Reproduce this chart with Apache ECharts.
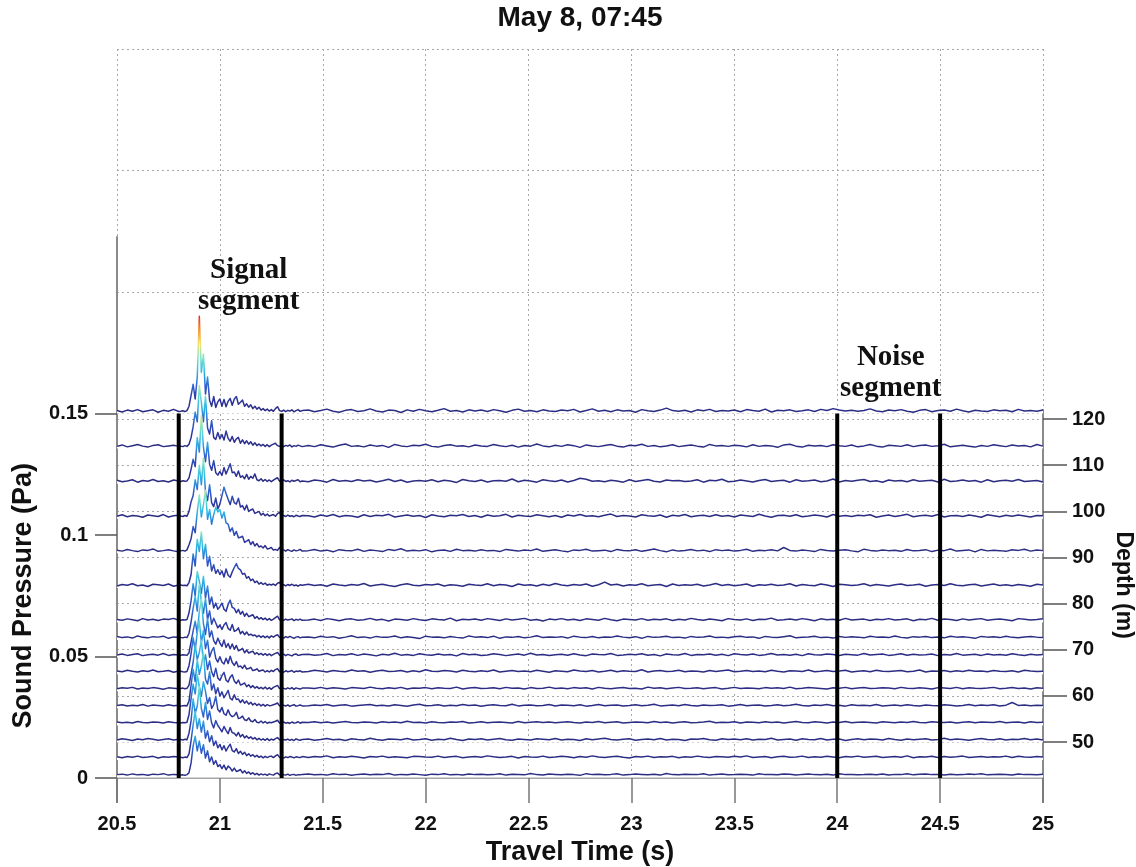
<!DOCTYPE html>
<html><head><meta charset="utf-8">
<script src="https://cdn.jsdelivr.net/npm/echarts@6/dist/echarts.min.js"></script>
<style>html,body{margin:0;padding:0;background:#fff}#c{width:1136px;height:867px}</style>
</head><body><div id="c"></div>
<script>
// ---------------- data ----------------
const chartTitle = 'May 8, 07:45';
const xName = 'Travel Time (s)';
const pName = 'Sound Pressure (Pa)';
const dName = 'Depth (m)';
// trace depths (m), back (deep) to front (shallow)
const depths = [121.2, 113.6, 106.0, 98.4, 90.9, 83.4, 75.9, 72.1, 68.3, 64.7, 61.0, 57.3, 53.6, 49.9, 46.1, 42.3];
// sampling of each trace: [start time, step, count]
const timeSegments = [[20.5, 0.025, 13], [20.81, 0.01, 60], [21.43, 0.03, 120]];
// signal / noise segment boundaries (s)
const segmentBounds = [20.8, 21.3, 24.0, 24.5];
// annotation text, time (s), height (plot units)
const annotations = [['Signal\nsegment', 21.14, 0.2025], ['Noise\nsegment', 24.26, 0.1665]];
const pressureUnit = 1e-4; // values below are in 1e-4 Pa

const d121 = [12,6,14,9,16,7,11,15,5,13,9,17,8,
9,11,8,12,30,75,120,60,150,400,
170,245,80,150,55,30,70,25,48,60,
30,58,28,50,62,34,60,70,38,46,
55,30,40,26,36,20,30,18,26,14,
20,12,18,10,16,9,20,28,12,9,
14,8,13,10,15,7,12,16,9,12,
14,7,12,18,9,5,13,16,8,11,
19,10,6,14,12,4,15,9,17,11,
7,13,20,9,12,6,15,10,14,8,
16,11,5,13,18,9,12,7,15,10,
8,14,11,17,6,12,19,9,13,7,
15,10,12,5,16,11,8,14,22,12,
9,13,6,15,11,17,8,12,10,14,
7,16,12,9,18,6,13,11,15,8,
11,15,8,17,12,20,14,10,13,9,
12,19,10,7,14,11,16,9,5,13,
16,7,12,14,9,18,11,6,13,10,
8,15,11,13,7,17,10,12,9,14];
const d114 = [9,15,7,12,17,10,6,13,16,8,11,14,9,
10,8,12,9,18,45,90,150,110,260,
190,110,215,85,60,115,45,38,66,40,
58,35,72,42,30,50,26,40,46,22,
36,20,32,18,28,14,24,12,19,11,
17,9,16,8,14,18,22,12,9,14,
8,13,10,15,7,12,9,14,11,8,
13,8,16,11,6,14,19,9,12,7,
15,10,13,5,17,11,8,14,12,18,
9,6,13,16,10,12,7,15,11,9,
17,12,8,14,6,13,10,19,11,7,
14,9,16,12,5,15,11,8,13,17,
10,6,14,12,18,9,13,7,11,16,
8,12,15,10,6,17,11,13,9,14,
12,7,16,9,13,11,5,15,18,10,
6,14,11,13,8,16,12,9,15,7,
11,17,10,6,14,12,9,16,8,13,
15,9,12,18,7,11,14,10,6,13,
9,16,12,8,15,11,13,7,17,10];
const d106 = [14,8,11,16,6,13,10,17,9,12,7,15,11,
9,12,10,11,24,60,100,70,190,130,
280,150,90,170,80,55,95,45,35,50,
34,66,40,60,82,45,48,30,52,26,
32,20,38,18,30,22,40,16,12,20,
10,17,9,15,8,14,20,24,10,12,
15,9,12,7,14,10,13,16,8,11,
8,15,12,6,17,10,13,9,16,11,
14,7,12,18,9,15,6,11,13,10,
16,8,14,11,5,17,12,9,15,7,
12,13,10,19,8,14,11,6,16,12,
9,15,7,13,22,18,10,12,8,14,
11,6,16,9,13,17,10,7,15,12,
13,9,11,16,6,14,12,18,8,10,
15,11,7,13,17,9,12,14,6,16,
10,12,15,8,11,19,7,13,10,14,
17,9,12,6,15,11,13,8,16,10,
12,14,7,18,9,11,15,10,13,6,
16,8,12,14,10,17,9,11,13,7];
const d98 = [10,16,8,13,11,6,15,12,9,17,7,12,14,
11,9,13,10,30,70,95,160,120,220,
140,250,110,75,140,65,50,85,40,60,
95,130,104,80,58,92,66,60,84,48,
54,36,56,30,36,40,22,26,30,15,
22,12,19,11,14,17,10,21,26,10,
13,9,15,10,12,8,14,11,9,13,
12,7,15,10,17,8,13,11,6,16,
9,14,12,18,7,11,15,10,13,5,
16,11,8,14,12,17,9,13,6,15,
10,12,18,7,14,11,9,16,12,8,
13,6,15,11,17,10,12,8,14,19,
9,13,11,7,16,12,10,15,6,14,
11,17,8,12,14,9,16,10,13,7,
15,12,9,18,11,6,13,14,10,16,
8,11,15,12,7,17,10,13,9,14,
12,16,6,11,15,9,13,18,8,12,
14,10,17,7,12,13,9,15,11,6,
16,12,8,14,10,15,11,7,13,12];
const d91 = [13,9,16,11,7,14,12,18,8,11,15,10,6,
10,12,9,14,35,60,110,85,170,240,
150,200,260,140,180,120,160,190,170,180,
145,170,125,120,90,105,74,90,64,66,
70,45,50,56,36,48,30,40,26,30,
22,32,18,20,24,13,16,12,24,11,
14,9,15,11,8,14,10,12,16,9,
11,16,9,13,6,15,12,10,17,8,
14,11,7,16,12,19,9,13,10,15,
6,12,14,8,17,11,13,9,15,10,
12,7,16,13,9,14,11,18,8,12,
15,10,6,14,12,17,9,11,13,7,
16,12,10,15,8,13,18,11,6,14,
9,12,16,10,13,7,15,11,14,9,
12,17,8,13,11,15,10,24,12,9,
14,11,7,16,12,9,13,15,10,6,
17,12,9,14,11,13,8,16,10,12,
15,7,13,11,18,9,12,14,6,16,
10,13,11,8,15,12,17,9,14,11];
const d83 = [8,14,11,17,9,12,6,15,13,10,16,7,12,
12,10,11,9,22,55,140,90,200,150,
230,120,180,90,130,70,95,60,75,55,
70,45,78,52,44,66,84,100,80,74,
56,60,40,46,30,36,22,28,16,22,
14,20,11,15,12,16,10,19,23,10,
13,8,14,10,15,9,12,7,13,11,
15,10,13,7,16,12,9,14,11,18,
8,12,15,10,6,13,17,11,9,14,
12,16,8,13,11,7,15,12,10,17,
9,14,12,6,16,11,13,8,15,10,
18,12,9,14,11,16,7,13,24,12,
15,8,13,11,17,9,12,14,6,16,
10,13,11,15,8,12,18,10,14,9,
12,16,7,13,11,15,10,12,17,8,
14,11,9,16,12,6,15,13,10,12,
17,9,14,11,8,13,16,10,12,15,
7,12,14,10,17,11,9,13,15,8,
12,16,10,13,9,14,11,7,15,12];
const d76 = [12,9,15,11,7,16,10,13,8,14,12,17,9,
9,11,10,12,40,90,160,110,210,170,
120,190,100,150,75,105,60,80,55,65,
80,55,46,74,92,62,58,40,54,34,
46,26,38,24,28,32,17,25,14,20,
12,18,10,16,9,14,20,26,11,13,
9,14,10,12,15,8,13,10,14,9,
10,14,8,16,12,7,13,15,9,11,
17,10,13,6,14,12,9,16,11,8,
15,12,10,18,7,13,11,14,9,16,
12,8,15,10,13,17,9,12,6,14,
11,16,10,13,8,15,12,9,17,11,
7,14,12,10,16,9,13,11,15,8,
13,10,17,12,9,14,11,7,16,12,
10,15,8,13,12,18,9,11,14,10,
16,12,7,15,11,13,9,17,10,12,
14,8,13,11,16,10,12,15,7,13,
11,17,9,14,12,8,15,10,13,16,
9,12,14,11,7,16,13,10,12,15];
const d72 = [15,10,13,8,17,11,9,14,12,16,7,13,10,
11,9,12,10,28,75,130,180,120,230,
160,110,170,85,120,65,90,70,50,62,
44,62,72,48,40,64,36,40,50,26,
36,22,33,20,24,18,21,13,19,11,
17,10,16,9,17,12,18,22,11,13,
8,14,10,15,11,7,12,14,9,12,
13,9,16,11,14,7,12,18,10,13,
8,15,11,12,17,9,14,10,6,16,
12,13,9,15,11,8,17,12,14,10,
16,7,13,11,15,9,12,18,10,13,
11,14,8,16,12,10,15,9,13,11,
17,12,9,14,7,15,11,13,16,10,
12,8,15,11,13,17,10,12,9,14,
16,11,13,7,15,12,10,14,18,9,
11,13,16,10,12,8,15,11,14,12,
9,16,12,13,10,17,11,8,14,12,
15,10,13,9,16,12,14,11,7,15,
12,14,10,16,11,9,13,15,12,10];
const d68 = [11,15,9,13,16,8,12,14,10,17,9,13,11,
10,12,11,9,20,65,110,150,100,190,
240,140,95,160,85,110,70,55,80,60,
46,72,42,58,36,56,34,50,28,32,
38,20,31,19,23,26,14,20,12,17,
10,16,9,15,8,13,17,21,10,12,
14,8,13,10,7,13,15,9,11,13,
14,10,12,17,8,13,11,16,9,15,
12,7,14,11,18,10,13,9,16,12,
10,15,11,13,7,17,12,14,9,11,
16,13,8,12,15,10,18,11,13,9,
12,14,10,16,11,8,15,13,12,17,
9,11,14,12,16,10,13,7,15,12,
11,17,9,13,12,15,10,14,8,16,
13,11,15,9,12,17,11,13,10,14,
8,16,12,11,15,13,9,14,12,10,
17,11,13,15,9,12,16,10,14,11,
12,15,8,13,11,17,10,12,14,9,
15,11,13,10,16,12,9,14,11,13];
const d65 = [13,10,16,12,9,14,11,17,10,12,15,8,13,
12,10,9,11,35,85,150,100,170,220,
130,180,105,140,70,95,110,65,50,72,
50,42,66,44,74,48,36,52,30,34,
24,37,21,23,28,15,17,22,12,15,
17,9,15,9,16,11,19,23,10,12,
8,14,10,12,15,8,13,11,14,9,
11,16,13,9,15,12,10,17,12,14,
8,13,16,11,12,15,9,14,10,18,
12,11,15,13,9,16,12,10,14,11,
17,9,12,15,11,13,10,16,12,8,
14,12,10,17,13,11,15,9,12,16,
10,14,12,11,18,9,13,15,11,12,
16,10,13,12,9,15,11,14,17,10,
12,15,11,13,10,16,12,9,14,13,
11,17,10,12,15,11,13,16,9,12,
14,10,16,12,11,13,15,10,12,17,
9,13,12,15,10,14,11,16,12,13,
10,15,12,11,14,9,16,13,11,12];
const d61 = [10,14,12,16,9,13,11,15,12,8,14,12,10,
11,13,10,12,25,70,120,190,130,160,
210,115,150,90,125,80,60,95,55,45,
64,78,46,38,58,68,42,32,46,26,
29,34,19,27,15,23,13,19,11,16,
10,17,9,15,8,16,20,24,11,13,
12,9,14,10,15,8,14,11,9,13,
13,11,16,10,14,12,9,15,13,11,
17,12,10,14,11,16,9,13,12,15,
10,14,12,11,17,9,13,15,11,12,
14,10,16,12,13,9,15,11,12,17,
11,13,10,15,12,14,9,16,12,10,
13,15,11,12,9,17,12,14,10,13,
16,11,12,14,10,13,15,9,12,16,
11,13,12,10,15,12,14,11,17,10,
12,15,13,11,9,14,12,16,10,13,
15,11,12,14,13,10,16,12,11,14,
12,9,15,13,11,16,10,14,12,11,
13,16,10,12,15,11,13,9,14,12];
const d57 = [12,15,10,13,11,16,9,14,12,10,15,11,13,
9,11,12,10,30,95,160,110,200,140,
175,230,120,100,150,75,100,60,85,50,
68,44,58,74,42,34,56,36,38,24,
35,21,30,17,25,14,21,12,18,10,
16,9,15,11,12,15,18,22,10,11,
13,9,14,8,12,15,9,11,14,10,
11,14,12,16,10,13,15,9,12,14,
16,11,13,10,15,12,9,14,17,11,
12,15,10,13,11,16,12,14,9,13,
15,12,11,17,10,13,14,11,12,16,
10,14,13,11,15,9,12,16,11,13,
14,10,12,15,11,13,17,10,12,14,
11,16,12,10,14,12,13,15,9,12,
16,11,13,14,10,12,15,11,13,17,
12,10,14,12,16,11,13,9,15,12,
13,11,16,10,12,14,11,15,12,10,
14,12,11,15,13,10,12,16,11,14,
12,15,10,13,24,12,14,11,13,12];
const d54 = [14,11,13,10,16,12,11,14,13,10,15,12,11,
10,12,11,13,45,110,170,130,210,160,
120,180,140,90,115,70,85,120,65,55,
74,48,42,64,44,36,40,54,28,31,
38,23,20,31,18,15,24,13,11,18,
10,16,9,13,11,14,17,21,10,12,
14,9,12,8,14,10,11,15,9,13,
12,15,11,14,10,13,16,12,11,14,
13,10,15,12,14,11,17,12,13,10,
15,12,11,14,13,16,10,12,15,11,
13,14,12,10,16,11,13,15,12,14,
11,13,15,12,10,14,12,16,11,13,
15,10,12,14,13,11,16,12,14,10,
13,15,11,12,14,17,11,13,12,15,
10,14,13,11,15,12,14,10,13,16,
12,11,15,13,10,14,12,16,11,13,
14,12,10,15,13,11,14,12,16,12,
11,15,13,12,14,10,13,15,11,14,
13,12,16,11,13,14,10,15,12,13];
const d50 = [10,15,12,8,14,11,16,13,9,12,15,10,13,
12,10,13,11,38,90,180,120,150,230,
140,105,165,95,130,80,60,90,70,58,
44,66,50,36,62,40,38,27,41,23,
33,19,27,17,23,14,20,11,17,10,
15,9,16,8,14,10,16,20,11,9,
12,10,14,9,13,8,15,11,9,12,
14,9,12,16,11,13,8,15,12,10,
17,12,9,14,13,11,16,10,12,15,
9,13,11,17,12,8,14,12,15,10,
13,16,11,9,14,12,10,15,13,11,
16,10,13,12,8,15,11,14,17,12,
10,13,15,9,12,14,11,16,10,13,
12,8,14,13,16,11,9,15,12,14,
11,15,10,13,12,17,10,12,14,9,
15,12,11,16,10,13,14,8,12,15,
11,14,13,10,16,12,9,14,11,13,
15,10,12,17,11,14,12,9,13,16,
12,11,15,10,13,12,16,11,14,10];
const d46 = [13,9,14,11,16,10,12,15,8,13,11,14,12,
11,9,12,10,25,80,145,200,130,170,
115,160,90,120,75,100,60,78,50,64,
42,59,37,53,65,39,33,47,27,36,
23,32,18,26,16,22,13,19,11,16,
9,15,10,14,16,10,17,22,11,12,
8,13,10,14,12,9,13,11,10,14,
10,14,12,17,9,13,11,15,12,8,
14,12,16,10,13,11,9,15,14,12,
11,16,10,13,15,9,12,14,11,17,
13,10,12,15,8,14,12,11,16,10,
12,15,13,9,14,11,17,12,10,13,
15,11,8,14,12,16,10,13,12,15,
9,13,11,16,12,10,14,13,11,15,
12,17,10,12,14,9,13,15,11,12,
16,10,13,11,15,12,9,14,12,16,
11,13,15,10,12,14,11,17,9,13,
12,15,10,14,11,13,16,10,12,14,
11,13,12,16,10,15,12,11,14,12];
const d42 = [12,14,10,15,11,13,9,14,12,16,10,13,11,
10,11,9,12,20,60,130,170,110,150,
100,135,80,110,65,85,55,70,45,52,
37,51,32,47,40,27,39,25,28,33,
19,28,17,23,14,20,12,17,10,15,
11,14,9,15,12,10,16,19,11,9,
12,10,14,9,12,13,9,12,11,13,
15,11,13,10,16,12,14,9,13,15,
11,14,12,17,10,13,11,15,12,9,
14,12,16,11,13,10,15,12,14,11,
12,16,10,14,13,11,17,12,10,15,
13,11,14,12,9,16,12,14,11,13,
16,10,12,15,13,11,14,10,17,12,
11,14,13,12,16,10,13,15,11,12,
14,12,10,16,12,13,11,15,14,10,
13,15,12,11,14,10,16,12,13,11,
12,14,11,15,10,13,12,16,11,14,
15,12,13,10,14,11,12,15,13,16,
11,13,14,12,10,15,12,13,11,14];
const traces = [d121, d114, d106, d98, d91, d83, d76, d72, d68, d65, d61, d57, d54, d50, d46, d42];

// ---------------- layout / style ----------------
const W = 1136, H = 867;
const L = 117, R = 1043, TOP = 49, FRONT = 778;
const BACK = (TOP + FRONT) / 2;
const P_MAX = 0.15, D_MIN = 42.2, D_MAX = 121.2;
const AMP_COLOR_MAX = 0.04;
const FONT = '"Liberation Sans", Arial, Helvetica, sans-serif';
const SERIF = '"Liberation Serif", "Times New Roman", serif';
const TXT = '#111';
const AXIS_GREY = '#8a8a8a';
const dotted = { color: '#a8a8a8', width: 1, type: [2, 3] };
const jet = ['#2b2b7c', '#2c349e', '#2f62cf', '#2ab6e6', '#7ee4c8', '#f2e46a', '#f39a3a', '#e0301e'];
const jetStops = jet.map((c, k) => ({ offset: k / (jet.length - 1), color: c }));

const offset = d => (d - D_MIN) / (D_MAX - D_MIN) * P_MAX;   // waterfall projection of depth
const depthY = d => FRONT - (d - D_MIN) / (D_MAX - D_MIN) * (FRONT - BACK);

const times = [];
timeSegments.forEach(([s, st, n]) => { for (let k = 0; k < n; k++) times.push(+(s + k * st).toFixed(3)); });

const gridBase = { left: L, right: W - R, containLabel: false, outerBoundsMode: 'none' };
const grids = [
  Object.assign({ top: TOP, bottom: H - FRONT }, gridBase),              // 0 data
  Object.assign({ top: TOP, bottom: H - BACK }, gridBase),               // 1 back wall
  Object.assign({ top: depthY(120), bottom: H - depthY(50) }, gridBase), // 2 depth ticks / floor grid
  Object.assign({ top: 410, bottom: H - 802 }, gridBase),                // 3 right box edge
  Object.assign({ top: 237, bottom: H - 802 }, gridBase),                // 4 left box edge
  Object.assign({ top: BACK, bottom: H - FRONT }, gridBase)              // 5 pressure ticks
];
const hiddenX = gi => ({ type: 'value', gridIndex: gi, min: 20.5, max: 25, show: false });
const xAxes = [{
  type: 'value', gridIndex: 0, min: 20.5, max: 25, interval: 0.5,
  axisLine: { show: true, lineStyle: { color: AXIS_GREY, width: 1.5 } },
  axisTick: { show: true, length: 25, lineStyle: { color: '#777', width: 1.5 } },
  axisLabel: { margin: 36, fontSize: 20, fontWeight: 'bold', color: TXT, fontFamily: FONT },
  splitLine: { show: true, lineStyle: dotted },
  name: xName, nameLocation: 'middle', nameGap: 56,
  nameTextStyle: { fontSize: 27, fontWeight: 'bold', color: TXT, fontFamily: FONT }
}, hiddenX(1), hiddenX(2), hiddenX(3), hiddenX(4), hiddenX(5)];
const none = { show: false };
const yAxes = [
  { type: 'value', gridIndex: 0, min: 0, max: 2 * P_MAX, show: false },
  { type: 'value', gridIndex: 1, min: 0, max: P_MAX, interval: 0.05,
    axisLine: none, axisTick: none, axisLabel: none, splitLine: { show: true, lineStyle: dotted } },
  { type: 'value', gridIndex: 2, position: 'right', min: 50, max: 120, interval: 10,
    axisLine: none,
    axisTick: { show: true, length: 24, lineStyle: { color: '#555', width: 1.5 } },
    axisLabel: { margin: 29, fontSize: 20, fontWeight: 'bold', color: TXT, fontFamily: FONT },
    splitLine: { show: true, lineStyle: dotted } },
  { type: 'value', gridIndex: 3, position: 'right', min: 0, max: 1,
    axisLine: { show: true, lineStyle: { color: AXIS_GREY, width: 2 } }, axisTick: none, axisLabel: none, splitLine: none },
  { type: 'value', gridIndex: 4, position: 'left', min: 0, max: 1,
    axisLine: { show: true, lineStyle: { color: AXIS_GREY, width: 2 } }, axisTick: none, axisLabel: none, splitLine: none },
  { type: 'value', gridIndex: 5, position: 'left', min: 0, max: P_MAX, interval: 0.05,
    axisLine: none,
    axisTick: { show: true, length: 22, lineStyle: { color: '#555', width: 1.5 } },
    axisLabel: { margin: 29, fontSize: 20, fontWeight: 'bold', color: TXT, fontFamily: FONT },
    splitLine: none,
    name: pName, nameLocation: 'middle', nameRotate: 90, nameGap: 80,
    nameTextStyle: { fontSize: 27, fontWeight: 'bold', color: TXT, fontFamily: FONT } }
];

const series = [];
segmentBounds.forEach(t => series.push({
  type: 'line', xAxisIndex: 0, yAxisIndex: 0, data: [[t, 0], [t, P_MAX]],
  symbol: 'none', silent: true, z: 5,
  lineStyle: { color: '#000', width: 4 }
}));
// waterfall traces: each item = one depth; drawn back to front through the axis scales
series.push({
  type: 'custom', xAxisIndex: 0, yAxisIndex: 0, silent: true, z: 3, clip: false,
  data: depths.map((d, i) => [i, d]),
  encode: { x: [], y: [] },
  renderItem: (params, api) => {
    const i = api.value(0);
    const o = offset(depths[i]);
    const vals = traces[i];
    const pts = times.map((t, k) => api.coord([t, o + vals[k] * pressureUnit]));
    const b0 = api.coord([times[0], o]);
    const b1 = api.coord([times[times.length - 1], o]);
    const yTop = api.coord([times[0], o + AMP_COLOR_MAX])[1];
    const grad = new echarts.graphic.LinearGradient(0, b0[1], 0, yTop, jetStops, true);
    return {
      type: 'group',
      children: [
        { type: 'polygon', shape: { points: pts.concat([b1, b0]) }, style: { fill: '#fff', stroke: null } },
        { type: 'polyline', shape: { points: pts }, style: { stroke: grad, lineWidth: 1.5, fill: null, lineJoin: 'round' } }
      ]
    };
  }
});

const chart = echarts.init(document.getElementById('c'), null, { renderer: 'canvas' });
chart.setOption({
  animation: false,
  backgroundColor: '#fff',
  title: { text: chartTitle, left: (L + R) / 2, top: 4, padding: 0, textAlign: 'center',
    textStyle: { fontSize: 28, fontWeight: 'bold', color: TXT, fontFamily: FONT } },
  grid: grids, xAxis: xAxes, yAxis: yAxes,
  series
});
// annotation texts anchored at data coordinates, plus the right-hand depth axis title
const graphics = annotations.map(a => {
  const p = chart.convertToPixel({ gridIndex: 0 }, [a[1], a[2]]);
  return { type: 'text', x: p[0], y: p[1], silent: true, z: 100,
    style: { text: a[0], fill: TXT, font: 'bold 29px ' + SERIF, align: 'center', verticalAlign: 'middle', lineHeight: 31 } };
});
const depthTitleY = chart.convertToPixel({ gridIndex: 2 }, [20.5, 84])[1];
graphics.push({ type: 'text', x: R + 80, y: depthTitleY, rotation: -Math.PI / 2, silent: true, z: 100,
  style: { text: dName, fill: TXT, font: 'bold 23px ' + FONT, align: 'center', verticalAlign: 'middle' } });
chart.setOption({ graphic: graphics });
</script></body></html>
